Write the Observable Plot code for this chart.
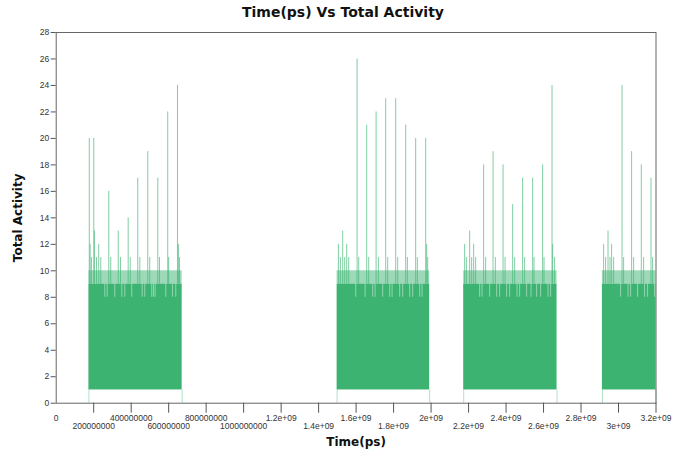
<!DOCTYPE html>
<html><head><meta charset="utf-8">
<script src="https://cdn.jsdelivr.net/npm/d3@7"></script>
<script src="https://cdn.jsdelivr.net/npm/@observablehq/plot@0.6"></script>
<style>
body{margin:0;background:#fff;}
#title{height:24px;box-sizing:border-box;padding-top:4px;line-height:16px;text-align:center;font:bold 14px "DejaVu Sans",sans-serif;color:#111;}
g[aria-label="x-axis label"] text, g[aria-label="y-axis label"] text{font-family:"DejaVu Sans",sans-serif;font-weight:bold;font-size:12px;fill:#111;}
</style></head><body>
<div id="title">Time(ps) Vs Total Activity</div>
<div id="chart"></div>
<script>
// Activity bursts (time in ps)
const blockStart = [0.1745e9, 1.4987e9, 2.174e9, 2.914e9];
const blockEnd   = [0.672e9, 1.9925e9, 2.672e9, 3.2e9];
const lowLevel = [1];
const highLevel = [9];
const bandLevel = [10];
const dipLevel = [8];

const spikeTime = [
  0.1765e9,0.181e9,0.188e9,0.2005e9,0.204e9,0.215e9,0.227e9,0.238e9,0.2805e9,0.291e9,0.331e9,0.343e9,0.384e9,0.395e9,0.435e9,0.446e9,0.4885e9,0.499e9,0.542e9,0.551e9,0.595e9,0.600e9,0.647e9,0.652e9,0.658e9,
  1.5056e9,1.5163e9,1.5285e9,1.5392e9,1.5499e9,1.5605e9,1.6053e9,1.6139e9,1.6565e9,1.6672e9,1.7067e9,1.7189e9,1.7579e9,1.7685e9,1.8112e9,1.8219e9,1.8645e9,1.8736e9,1.9179e9,1.9269e9,1.9712e9,1.9765e9,1.9819e9,
  2.1792e9,2.1883e9,2.2059e9,2.2165e9,2.2272e9,2.2379e9,2.2805e9,2.2912e9,2.3307e9,2.3429e9,2.384e9,2.3947e9,2.4352e9,2.4459e9,2.4885e9,2.4992e9,2.5419e9,2.5493e9,2.5952e9,2.6027e9,2.6453e9,2.6485e9,2.6592e9,
  2.9205e9,2.9312e9,2.944e9,2.9547e9,2.9632e9,2.9739e9,3.0187e9,3.0272e9,3.0699e9,3.0805e9,3.1216e9,3.1339e9,3.1733e9,3.1819e9
];
const spikeValue = [
  20,12,11,20,13,11,12,11,16,11,13,11,14,11,17,11,19,11,17,11,22,11,24,12,11,
  12,11,13,11,12,11,26,11,21,11,22,11,23,11,23,11,21,11,20,11,20,12,11,
  12,11,13,11,12,11,18,11,19,11,18,11,15,11,17,11,17,11,18,11,24,12,11,
  12,11,13,11,12,11,24,11,19,11,18,11,17,11
];
const dipTime = [
  0.2592e9,0.272e9,0.3125e9,0.3499e9,0.3659e9,0.4032e9,0.4587e9,0.4725e9,0.5099e9,0.5189e9,0.528e9,0.5845e9,0.6203e9,0.6379e9,
  1.598e9,1.648e9,1.6885e9,1.7013e9,1.7419e9,1.7792e9,1.792e9,1.8325e9,1.8485e9,1.8859e9,1.9019e9,1.9392e9,1.952e9,
  2.2592e9,2.272e9,2.3125e9,2.3499e9,2.3659e9,2.4032e9,2.4192e9,2.4587e9,2.4725e9,2.5099e9,2.5333e9,2.5632e9,2.5845e9,2.624e9,2.6379e9,
  3.0112e9,3.0507e9,3.0645e9,3.1019e9,3.1392e9,3.1552e9,3.1925e9
];

const xTicks = [0,2e8,4e8,6e8,8e8,1e9,1.2e9,1.4e9,1.6e9,1.8e9,2e9,2.2e9,2.4e9,2.6e9,2.8e9,3e9,3.2e9];
const xTickLabels = ["0","200000000","400000000","600000000","800000000","1000000000","1.2e+09","1.4e+09","1.6e+09","1.8e+09","2e+09","2.2e+09","2.4e+09","2.6e+09","2.8e+09","3e+09","3.2e+09"];
const yTicks = [0,2,4,6,8,10,12,14,16,18,20,22,24,26,28];

const green = "#3cb371";
const blocks = blockStart.map((s, i) => ({start: s, end: blockEnd[i]}));
const spikes = spikeTime.map((t, i) => ({t, v: spikeValue[i]}));
const edges = blockStart.concat(blockEnd);
const labelOf = v => xTickLabels[xTicks.indexOf(v)];
const evenTicks = xTicks.filter((d, i) => i % 2 === 0);
const oddTicks = xTicks.filter((d, i) => i % 2 === 1);

const chart = Plot.plot({
  width: 686,
  height: 428,
  marginTop: 8,
  marginBottom: 49.3,
  marginLeft: 55.7,
  marginRight: 30.5,
  style: {fontFamily: "'Liberation Sans', Arial, sans-serif", fontSize: "8.5px", color: "#333", background: "#fff"},
  x: {domain: [0, 3.2e9]},
  y: {domain: [0, 28]},
  marks: [
    Plot.ruleX(edges, {x: d => d, y1: 0, y2: lowLevel[0], stroke: green, strokeOpacity: 0.4}),
    Plot.rect(blocks, {x1: "start", x2: "end", y1: lowLevel[0], y2: highLevel[0], fill: green}),
    Plot.rect(blocks, {x1: "start", x2: "end", y1: highLevel[0], y2: bandLevel[0], fill: green, fillOpacity: 0.5}),
    Plot.ruleX(dipTime, {x: d => d, y1: dipLevel[0], y2: highLevel[0], stroke: "#fff", strokeOpacity: 0.45}),
    Plot.ruleX(spikes, {x: "t", y1: highLevel[0], y2: "v", stroke: green, strokeOpacity: 0.65}),
    Plot.frame({stroke: "#666"}),
    Plot.axisY({ticks: yTicks, tickSize: 5, tickPadding: 2, stroke: "#555", fill: "#333",
      label: "Total Activity", labelAnchor: "center", labelOffset: 43, labelArrow: "none"}),
    Plot.axisX({ticks: xTicks.filter(d => d !== 0), tickSize: 10, text: null, stroke: "#555", label: null}),
    Plot.axisX({ticks: evenTicks, tickSize: 0, tickPadding: 12, tickFormat: labelOf, fill: "#333",
      label: "Time(ps)", labelAnchor: "center", labelOffset: 43, labelArrow: "none"}),
    Plot.axisX({ticks: oddTicks, tickSize: 0, tickPadding: 20, tickFormat: labelOf, fill: "#333", label: null})
  ]
});
document.getElementById("chart").appendChild(chart);
</script>
</body></html>
